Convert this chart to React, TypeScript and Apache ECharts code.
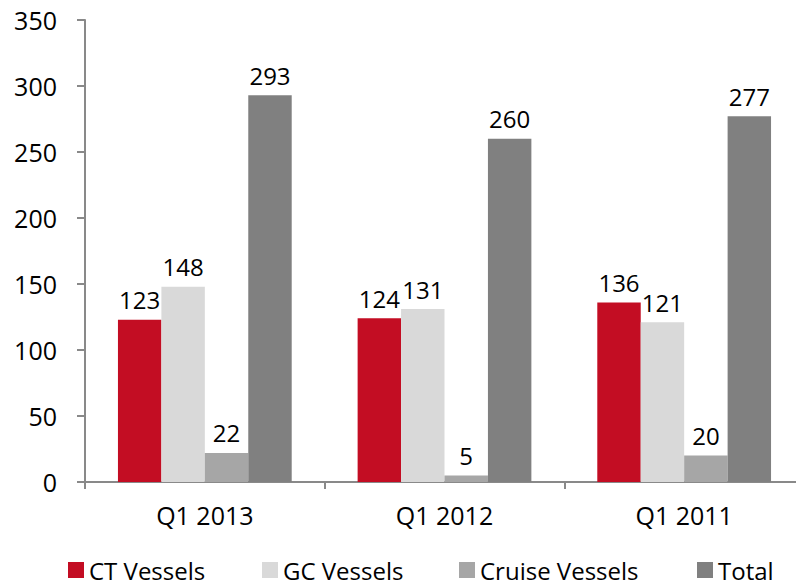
import React, { useEffect, useRef } from "react";
import * as echarts from "echarts";

const categories = ["Q1 2013", "Q1 2012", "Q1 2011"];
const ctVessels = [123, 124, 136];
const gcVessels = [148, 131, 121];
const cruiseVessels = [22, 5, 20];
const total = [293, 260, 277];
const seriesNames = ["CT Vessels", "GC Vessels", "Cruise Vessels", "Total"];
const colors = ["#C30D23", "#D9D9D9", "#A6A6A6", "#808080"];
const legendLefts = [68, 262, 459, 697];

const FONT = "'Open Sans', sans-serif";

export default function App() {
  const ref = useRef<HTMLDivElement>(null);
  useEffect(() => {
    if (!ref.current) return;
    const chart = echarts.init(ref.current, undefined, { renderer: "svg" });
    const dataSets = [ctVessels, gcVessels, cruiseVessels, total];
    chart.setOption({
      animation: false,
      textStyle: { fontFamily: FONT },
      grid: { left: 85, right: -9, top: 20, bottom: 104, containLabel: false },
      legend: seriesNames.map((name, i) => ({
        top: 556,
        left: legendLefts[i],
        padding: 0,
        itemWidth: 16,
        itemHeight: 16,
        icon: "rect",
        textStyle: { fontSize: 24, lineHeight: 28, color: "#000", fontFamily: FONT },
        data: [name],
      })),
      xAxis: {
        type: "category",
        data: categories,
        axisLine: { lineStyle: { color: "#898989", width: 2 } },
        axisTick: { show: true, length: 7, lineStyle: { color: "#898989", width: 2 } },
        axisLabel: { fontSize: 25, color: "#000", margin: 20, fontFamily: FONT },
      },
      yAxis: {
        type: "value",
        min: 0,
        max: 350,
        interval: 50,
        splitLine: { show: false },
        axisLine: { show: true, lineStyle: { color: "#898989", width: 2 } },
        axisTick: { show: true, length: 8, lineStyle: { color: "#898989", width: 2 } },
        axisLabel: { fontSize: 25, color: "#000", margin: 28, fontFamily: FONT },
      },
      series: seriesNames.map((name, i) => ({
        name,
        type: "bar",
        data: dataSets[i],
        barGap: "0%",
        barCategoryGap: "27.5%",
        itemStyle: { color: colors[i] },
        label: {
          show: true,
          position: "top",
          distance: 8,
          fontSize: 24,
          color: "#000",
          fontFamily: FONT,
        },
      })),
    });
    return () => chart.dispose();
  }, []);
  return <div ref={ref} style={{ width: 804, height: 586, marginLeft: -8, marginTop: -8 }} />;
}
